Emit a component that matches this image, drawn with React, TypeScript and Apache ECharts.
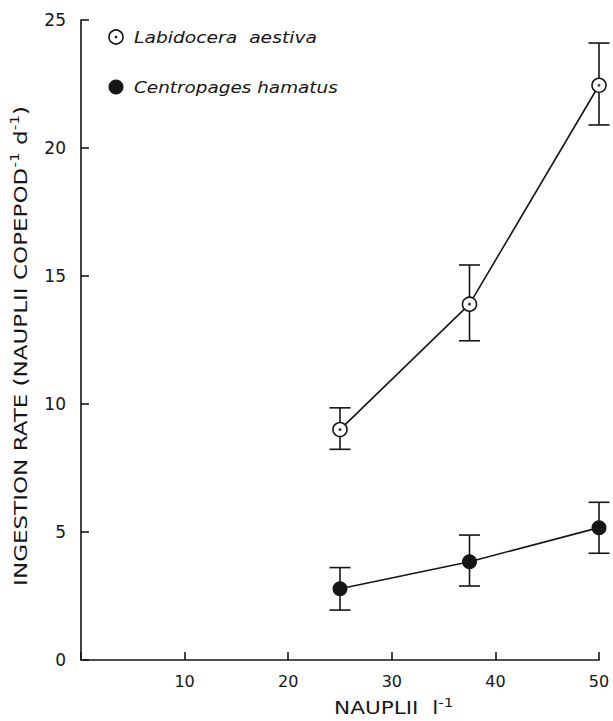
import React, { useEffect, useRef } from "react";
import * as echarts from "echarts";

const naupliiConc = [25, 37.5, 50];
const labidocera = [9.0, 13.9, 22.45];
const labidoceraLow = [8.23, 12.47, 20.9];
const labidoceraHigh = [9.85, 15.43, 24.1];
const centropages = [2.78, 3.84, 5.17];
const centropagesLow = [1.95, 2.89, 4.17];
const centropagesHigh = [3.61, 4.88, 6.16];
const xTicks = [0, 10, 20, 30, 40, 50];
const yTicks = [0, 5, 10, 15, 20, 25];

const INK = "#161616";
const FONT = "DejaVu Sans";

export default function App() {
  const ref = useRef<HTMLDivElement>(null);
  useEffect(() => {
    if (!ref.current) return;
    const chart = echarts.init(ref.current, null, { renderer: "svg" });
    const pts = (ys: number[]) => naupliiConc.map((x, i) => [x, ys[i]]);
    const errs = (lo: number[], hi: number[]) => naupliiConc.map((x, i) => [x, lo[i], hi[i]]);
    const errRender = (params: any, api: any) => {
      const x = api.value(0);
      const lo = api.coord([x, api.value(1)]);
      const hi = api.coord([x, api.value(2)]);
      const w = 10.5;
      const style = { stroke: INK, lineWidth: 1.6 };
      return {
        type: "group",
        children: [
          { type: "line", shape: { x1: lo[0], y1: lo[1], x2: hi[0], y2: hi[1] }, style },
          { type: "line", shape: { x1: lo[0] - w, y1: lo[1], x2: lo[0] + w, y2: lo[1] }, style },
          { type: "line", shape: { x1: hi[0] - w, y1: hi[1], x2: hi[0] + w, y2: hi[1] }, style },
        ],
      };
    };
    const legendFont = `italic 16px "${FONT}"`;
    chart.setOption({
      animation: false,
      backgroundColor: "#fff",
      grid: { left: 81, right: 14, top: 20, bottom: 61 },
      xAxis: {
        type: "value",
        min: 0,
        max: 50,
        interval: 10,
        axisLine: { lineStyle: { color: INK, width: 1.6 } },
        axisTick: { inside: true, length: 8, lineStyle: { color: INK, width: 1.6 } },
        splitLine: { show: false },
        axisLabel: {
          color: INK,
          fontFamily: FONT,
          fontSize: 16,
          margin: 13,
          formatter: (v: number) => (v === xTicks[0] ? "" : String(v)),
        },
      },
      yAxis: {
        type: "value",
        min: 0,
        max: 25,
        interval: 5,
        axisLine: { lineStyle: { color: INK, width: 1.6 } },
        axisTick: { inside: true, length: 8, lineStyle: { color: INK, width: 1.6 } },
        splitLine: { show: false },
        axisLabel: {
          color: INK,
          fontFamily: FONT,
          fontSize: 17,
          margin: 15,
          formatter: (v: number) => (yTicks.includes(v) ? String(v) : ""),
        },
      },
      series: [
        {
          type: "custom",
          name: "Labidocera aestiva SE",
          renderItem: errRender,
          data: errs(labidoceraLow, labidoceraHigh),
          z: 1,
        },
        {
          type: "custom",
          name: "Centropages hamatus SE",
          renderItem: errRender,
          data: errs(centropagesLow, centropagesHigh),
          z: 1,
        },
        {
          type: "line",
          name: "Labidocera aestiva",
          data: pts(labidocera),
          symbol: "circle",
          symbolSize: 14,
          lineStyle: { color: INK, width: 1.6 },
          itemStyle: { color: "#fff", borderColor: INK, borderWidth: 1.6 },
          z: 3,
        },
        {
          type: "scatter",
          name: "Labidocera aestiva centre",
          data: pts(labidocera),
          symbol: "circle",
          symbolSize: 3,
          itemStyle: { color: INK },
          z: 4,
        },
        {
          type: "line",
          name: "Centropages hamatus",
          data: pts(centropages),
          symbol: "circle",
          symbolSize: 15,
          lineStyle: { color: INK, width: 1.6 },
          itemStyle: { color: INK },
          z: 3,
        },
      ],
      graphic: [
        { type: "circle", shape: { cx: 116, cy: 37, r: 7 }, style: { fill: "#fff", stroke: INK, lineWidth: 1.6 } },
        { type: "circle", shape: { cx: 116, cy: 37, r: 1.3 }, style: { fill: INK } },
        {
          type: "text",
          x: 134,
          y: 37,
          scaleX: 1.17,
          style: { text: "Labidocera  aestiva", font: legendFont, fill: INK, textVerticalAlign: "middle" },
        },
        { type: "circle", shape: { cx: 116, cy: 87, r: 7.5 }, style: { fill: INK } },
        {
          type: "text",
          x: 134,
          y: 87,
          scaleX: 1.15,
          style: { text: "Centropages hamatus", font: legendFont, fill: INK, textVerticalAlign: "middle" },
        },
        {
          type: "text",
          x: 21,
          y: 346,
          rotation: Math.PI / 2,
          scaleX: 1.28,
          style: {
            text: "{a|INGESTION RATE (NAUPLII COPEPOD}{s|-1}{a| d}{s|-1}{a|)}",
            textAlign: "center",
            textVerticalAlign: "middle",
            rich: {
              a: { fontFamily: FONT, fontSize: 18, fill: INK, lineHeight: 24 },
              s: { fontFamily: FONT, fontSize: 12, fill: INK, verticalAlign: "top", lineHeight: 24 },
            },
          },
        },
        {
          type: "text",
          x: 334,
          y: 708,
          scaleX: 1.27,
          style: {
            text: "{a|NAUPLII  l}{s|-1}",
            textVerticalAlign: "middle",
            rich: {
              a: { fontFamily: FONT, fontSize: 17, fill: INK, lineHeight: 22 },
              s: { fontFamily: FONT, fontSize: 12, fill: INK, verticalAlign: "top", lineHeight: 22 },
            },
          },
        },
      ],
    });
    return () => chart.dispose();
  }, []);
  return (
    <div
      ref={ref}
      style={{ position: "absolute", left: 0, top: 0, width: 613, height: 721, background: "#fff" }}
    />
  );
}
